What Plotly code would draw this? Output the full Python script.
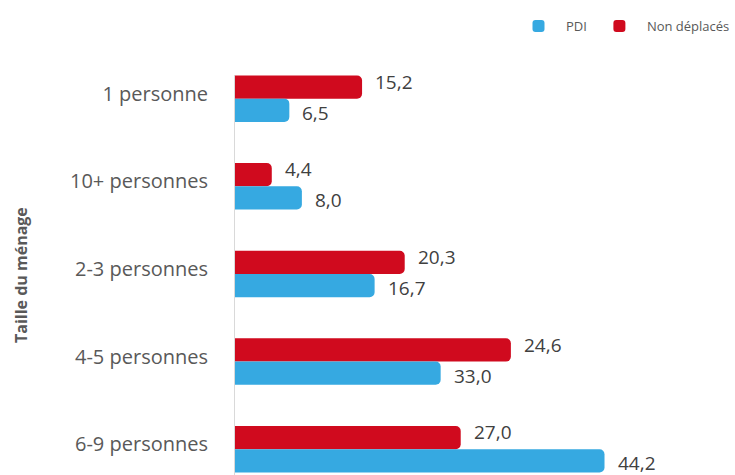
import plotly.graph_objects as go

categories = ["1 personne", "10+ personnes", "2-3 personnes", "4-5 personnes", "6-9 personnes"]
non_deplaces = [15.2, 4.4, 20.3, 33.0, 27.0]
pdi = [6.5, 8.0, 16.7, 24.6, 44.2]
non_deplaces_labels = ["15,2", "4,4", "20,3", "24,6", "27,0"]
pdi_labels = ["6,5", "8,0", "16,7", "33,0", "44,2"]

RED = "#D00A1E"
BLUE = "#36A9E1"
FONT = "Open Sans"

fig = go.Figure()
fig.add_trace(go.Bar(name="Non déplacés", y=categories, x=non_deplaces, orientation="h",
                     marker=dict(color=RED, line=dict(width=0)), legendrank=2))
fig.add_trace(go.Bar(name="PDI", y=categories, x=pdi, orientation="h",
                     marker=dict(color=BLUE, line=dict(width=0)), legendrank=1))

ann = []
for c, v, t in zip(categories, non_deplaces, non_deplaces_labels):
    ann.append(dict(x=v, y=c, xref="x", yref="y", text=t, showarrow=False, xanchor="left",
                    yanchor="middle", xshift=11, yshift=17,
                    font=dict(family=FONT, size=19, color="#404040")))
for c, v, t in zip(categories, pdi, pdi_labels):
    ann.append(dict(x=v, y=c, xref="x", yref="y", text=t, showarrow=False, xanchor="left",
                    yanchor="middle", xshift=11, yshift=-14,
                    font=dict(family=FONT, size=19, color="#404040")))
ann.append(dict(x=-(235 - 21) / 418, y=0.5, xref="paper", yref="paper", text="<b>Taille du ménage</b>",
                textangle=-90, showarrow=False, xanchor="center", yanchor="middle",
                font=dict(family=FONT, size=16, color="#595959")))

fig.update_layout(
    width=735, height=475,
    margin=dict(l=235, r=82, t=75, b=0, autoexpand=False),
    paper_bgcolor="white", plot_bgcolor="white",
    barmode="group", bargap=0.47, bargroupgap=0, barcornerradius=5,
    xaxis=dict(visible=False, range=[0, 50], automargin=False),
    yaxis=dict(range=[4.294, -0.27], showline=True, linecolor="#d9d9d9", linewidth=1,
               showgrid=False, ticks="", ticklabelstandoff=22, ticklabelshift=5, automargin=False,
               tickfont=dict(family=FONT, size=20, color="#595959")),
    legend=dict(orientation="h", xref="container", yref="container", x=1, xanchor="right",
                y=(475 - 26) / 475, yanchor="middle", itemwidth=45,
                font=dict(family=FONT, size=13, color="#595959"),
                bgcolor="rgba(0,0,0,0)"),
    annotations=ann,
    showlegend=True,
)

fig.write_html("out.html", config={"displayModeBar": False},
               post_script="document.body.style.margin='0';document.body.style.overflow='hidden';")
